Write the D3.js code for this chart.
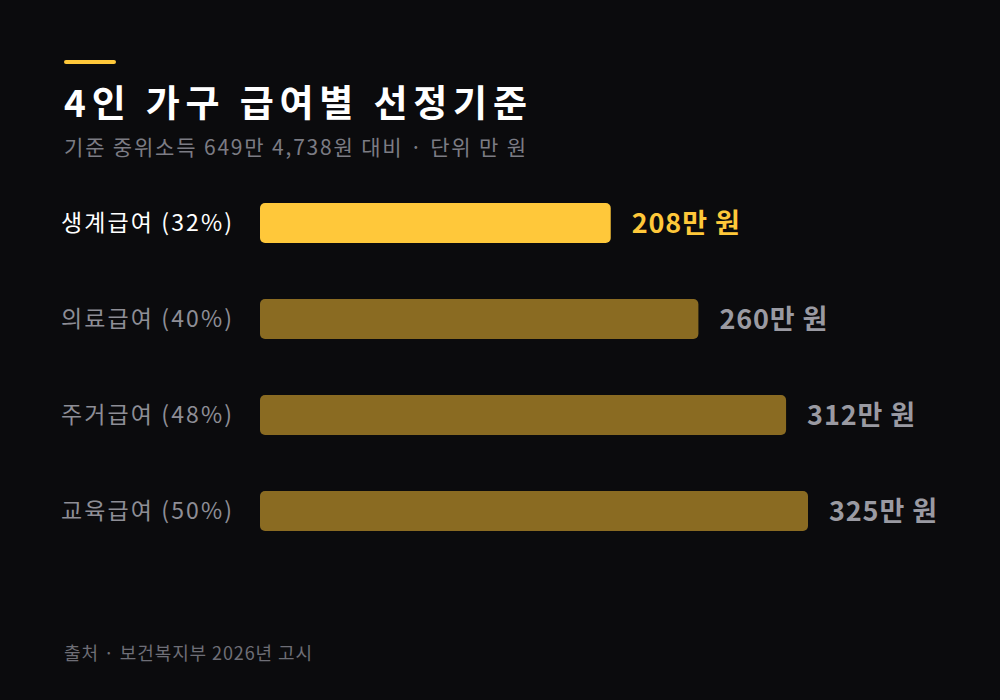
<!DOCTYPE html>
<html><head><meta charset="utf-8">
<script src="https://cdn.jsdelivr.net/npm/d3@7"></script>
<style>html,body{margin:0;padding:0;background:#0b0b0d;}svg{display:block;}</style>
</head><body>
<script>
const categories = ["생계급여", "의료급여", "주거급여", "교육급여"];
const percents = ["32%", "40%", "48%", "50%"];
const values = [208, 260, 312, 325];
const title = "4인 가구 급여별 선정기준";
const subtitle = "기준 중위소득 649만 4,738원 대비 · 단위 만 원";
const source = "출처 · 보건복지부 2026년 고시";

const W = 1000, H = 700;
const font = "'Noto Sans CJK KR','Noto Sans',sans-serif";
const svg = d3.select("body").append("svg").attr("width", W).attr("height", H);
svg.append("rect").attr("width", W).attr("height", H).attr("fill", "#0b0b0d");

svg.append("rect").attr("x", 64).attr("y", 60).attr("width", 52).attr("height", 4).attr("rx", 2).attr("fill", "#ffc83a");
svg.append("text").attr("x", 64).attr("y", 117).attr("fill", "#ffffff").attr("font-family", font)
  .attr("font-weight", 700).attr("font-size", 37).attr("textLength", 463).attr("lengthAdjust", "spacing").text(title);
svg.append("text").attr("x", 64).attr("y", 155).attr("fill", "#7c7c84").attr("font-family", font)
  .attr("font-size", 21).attr("textLength", 462).attr("lengthAdjust", "spacing").text(subtitle);

const x = d3.scaleLinear().domain([0, 325]).range([260, 808]);
const y = d3.scaleBand().domain(categories).range([175, 559]).paddingInner(0.5833).paddingOuter(0.2917);

const g = svg.append("g");
categories.forEach((c, i) => {
  const yy = y(c), bh = y.bandwidth();
  const hi = i === 0;
  g.append("rect").attr("x", x(0)).attr("y", yy).attr("width", x(values[i]) - x(0)).attr("height", bh)
    .attr("rx", 5).attr("fill", hi ? "#ffc83a" : "#8a6b22");
  g.append("text").attr("x", 61).attr("y", yy + bh / 2).attr("dy", "0.36em")
    .attr("fill", hi ? "#ffffff" : "#8e8e96").attr("font-family", font).attr("font-size", 23)
    .attr("textLength", 171).attr("lengthAdjust", "spacing")
    .text(`${c} (${percents[i]})`);
  g.append("text").attr("x", x(values[i]) + 21).attr("y", yy + bh / 2).attr("dy", "0.36em")
    .attr("fill", hi ? "#ffc83a" : "#9a9aa2").attr("font-family", font).attr("font-size", 27).attr("font-weight", 700)
    .attr("textLength", 108).attr("lengthAdjust", "spacing")
    .text(`${values[i]}만 원`);
});

svg.append("text").attr("x", 64).attr("y", 660).attr("fill", "#6e6e76").attr("font-family", font)
  .attr("font-size", 18).attr("textLength", 248).attr("lengthAdjust", "spacing").text(source);
</script>
</body></html>
